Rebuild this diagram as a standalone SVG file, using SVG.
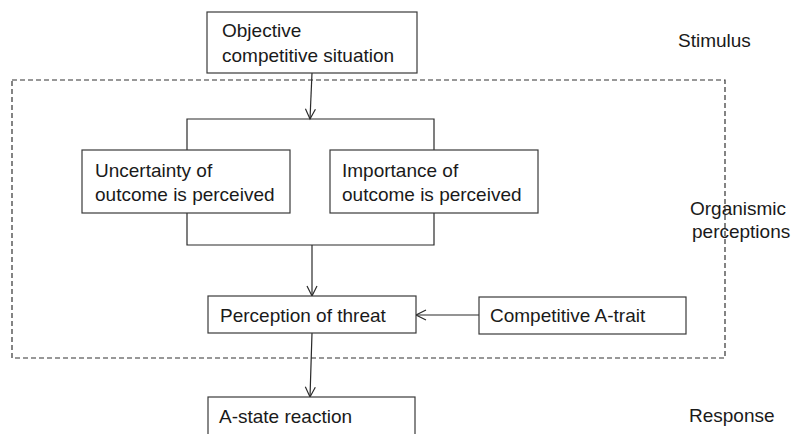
<svg xmlns="http://www.w3.org/2000/svg" width="792" height="434" viewBox="0 0 792 434">
<style>
.box{fill:#fff;stroke:#3a3a3a;stroke-width:1.2}
.t{font-family:"Liberation Sans",Arial,sans-serif;font-size:19px;fill:#1a1a1a}
.c{fill:none;stroke:#2a2a2a;stroke-width:1.2}
.dash{fill:none;stroke:#333;stroke-width:1.2;stroke-dasharray:5 3}
</style>
<defs>
<marker id="arr" markerUnits="userSpaceOnUse" markerWidth="14" markerHeight="14" viewBox="0 0 14 14" refX="12" refY="7" orient="auto">
<path d="M2,2 L12,7 L2,12" fill="none" stroke="#2a2a2a" stroke-width="1.2"/>
</marker>
</defs>
<rect width="792" height="434" fill="#fff"/>
<rect class="dash" x="12" y="80" width="713" height="278"/>
<g id="connectors">
<line class="c" x1="312" y1="73" x2="310" y2="119" marker-end="url(#arr)"/>
<path class="c" d="M187,150 V119 H434 V150"/>
<path class="c" d="M187,213 V245 H434 V213"/>
<line class="c" x1="312" y1="245" x2="312" y2="296" marker-end="url(#arr)"/>
<line class="c" x1="479" y1="315" x2="416" y2="315" marker-end="url(#arr)"/>
<line class="c" x1="312" y1="333" x2="310" y2="397" marker-end="url(#arr)"/>
</g>
<g id="objective">
<rect class="box" x="207" y="12" width="210" height="61"/>
<text class="t" x="222" y="37">Objective</text>
<text class="t" x="222" y="62">competitive situation</text>
</g>
<g id="uncertainty">
<rect class="box" x="82" y="150" width="208" height="63"/>
<text class="t" x="95" y="177">Uncertainty of</text>
<text class="t" x="95" y="201">outcome is perceived</text>
</g>
<g id="importance">
<rect class="box" x="330" y="150" width="208" height="63"/>
<text class="t" x="342" y="177">Importance of</text>
<text class="t" x="342" y="201">outcome is perceived</text>
</g>
<g id="threat">
<rect class="box" x="208" y="296" width="208" height="37"/>
<text class="t" x="220" y="322">Perception of threat</text>
</g>
<g id="trait">
<rect class="box" x="479" y="297" width="207" height="37"/>
<text class="t" x="490" y="322">Competitive A-trait</text>
</g>
<g id="astate">
<rect class="box" x="208" y="397" width="207" height="50"/>
<text class="t" x="219" y="423">A-state reaction</text>
</g>
<g id="labels">
<text class="t" x="678" y="47">Stimulus</text>
<text class="t" x="690" y="215">Organismic</text>
<text class="t" x="692" y="238">perceptions</text>
<text class="t" x="689" y="422">Response</text>
</g>
</svg>
